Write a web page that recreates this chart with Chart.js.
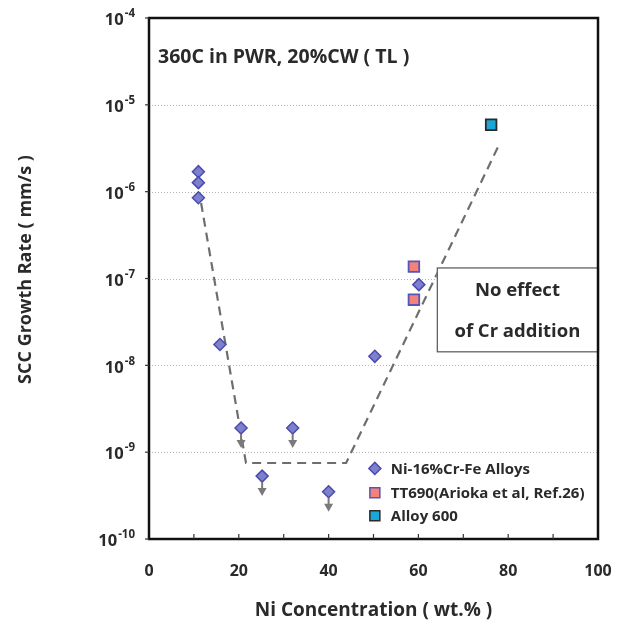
<!DOCTYPE html>
<html>
<head>
<meta charset="utf-8">
<script src="https://cdn.jsdelivr.net/npm/chart.js@4.4.0/dist/chart.umd.min.js"></script>
<style>
html,body{margin:0;padding:0;background:#fff;}
#wrap{width:625px;height:630px;}
</style>
</head>
<body>
<div id="wrap"><canvas id="c" width="625" height="630"></canvas></div>
<script>
// ---- data ----
const niX     = [11, 11, 11, 15.8, 20.5, 25.2, 32, 40, 50.3, 60.1];
const niY     = [1.7e-6, 1.27e-6, 8.5e-7, 1.74e-8, 1.9e-9, 5.3e-10, 1.9e-9, 3.5e-10, 1.27e-8, 8.5e-8];
const niUpper = [false, false, false, false, true, true, true, true, false, false];
const ttX     = [59, 59];
const ttY     = [1.37e-7, 5.7e-8];
const a600X   = [76.2];
const a600Y   = [5.9e-6];
const trendX  = [11.6, 21.6, 43.9, 78];
const trendY  = [7.4e-7, 7.5e-10, 7.5e-10, 3.5e-6];
const xTicks  = [0, 20, 40, 60, 80, 100];
const xMinor  = [10, 20, 30, 40, 50, 60, 70, 80, 90];
const yExp    = [-10, -9, -8, -7, -6, -5, -4];
const labels  = ['Ni-16%Cr-Fe Alloys', 'TT690(Arioka et al, Ref.26)', 'Alloy 600'];
const xTitle  = 'Ni Concentration ( wt.% )';
const yTitle  = 'SCC Growth Rate ( mm/s )';
const FONT = '"Open Sans", Calibri, Lato, sans-serif';
const TXT = '#2a2a2a';

const pts = (xs, ys) => xs.map((x, i) => ({x: x, y: ys[i]}));

const overlay = {
  id: 'overlay',
  beforeDatasetsDraw(chart) {
    const {ctx, chartArea: a, scales: {x, y}} = chart;
    ctx.save();
    ctx.strokeStyle = '#b5b5b5';
    ctx.lineWidth = 1;
    ctx.setLineDash([1, 2]);
    yExp.forEach(e => {
      const py = Math.round(y.getPixelForValue(Math.pow(10, e))) + 0.5;
      if (py > a.top + 2 && py < a.bottom - 2) {
        ctx.beginPath(); ctx.moveTo(a.left, py); ctx.lineTo(a.right, py); ctx.stroke();
      }
    });
    ctx.restore();
  },
  afterDatasetsDraw(chart) {
    const {ctx, chartArea: a, scales: {x, y}} = chart;
    ctx.save();
    // upper-bound arrows
    const ds = chart.data.datasets[0];
    ctx.strokeStyle = '#7a7a7a'; ctx.fillStyle = '#7a7a7a'; ctx.lineWidth = 2;
    ds.data.forEach((p, i) => {
      if (!niUpper[i]) return;
      const px = x.getPixelForValue(p.x), py = y.getPixelForValue(p.y);
      ctx.beginPath(); ctx.moveTo(px, py + 6); ctx.lineTo(px, py + 14); ctx.stroke();
      ctx.beginPath(); ctx.moveTo(px - 4.5, py + 12); ctx.lineTo(px + 4.5, py + 12); ctx.lineTo(px, py + 20); ctx.closePath(); ctx.fill();
    });
    // annotation box
    const bl = x.getPixelForValue(64.1), bt = y.getPixelForValue(1.34e-7), bb = y.getPixelForValue(1.45e-8);
    ctx.fillStyle = '#fff';
    ctx.fillRect(bl, bt, a.right - bl, bb - bt);
    ctx.strokeStyle = '#555'; ctx.lineWidth = 1.2;
    ctx.strokeRect(bl + 0.5, bt + 0.5, a.right - bl, bb - bt);
    ctx.fillStyle = TXT;
    ctx.font = 'bold 18.5px ' + FONT;
    ctx.textAlign = 'center'; ctx.textBaseline = 'middle';
    const cx = (bl + a.right) / 2;
    ctx.fillText('No effect', cx, bt + 23);
    ctx.fillText('of Cr addition', cx, bb - 20);
    // condition text
    ctx.textAlign = 'left';
    ctx.font = 'bold 19.5px ' + FONT;
    ctx.fillText('360C in PWR, 20%CW ( TL )', a.left + 9, a.top + 39);
    // legend
    ctx.font = 'bold 15px ' + FONT;
    const lx = x.getPixelForValue(50.3);
    const rows = [y.getPixelForValue(6.5e-10), y.getPixelForValue(3.4e-10), y.getPixelForValue(1.85e-10)];
    chart.data.datasets.slice(0, 3).forEach((d, i) => {
      const ry = rows[i];
      ctx.fillStyle = d.backgroundColor; ctx.strokeStyle = d.borderColor; ctx.lineWidth = 1.5;
      ctx.beginPath();
      if (i === 0) {
        ctx.moveTo(lx - 6, ry); ctx.lineTo(lx, ry - 6); ctx.lineTo(lx + 6, ry); ctx.lineTo(lx, ry + 6); ctx.closePath();
      } else {
        ctx.rect(lx - 5, ry - 5, 10, 10);
      }
      ctx.fill(); ctx.stroke();
      ctx.fillStyle = TXT;
      ctx.textAlign = 'left'; ctx.textBaseline = 'middle';
      ctx.fillText(labels[i], lx + 16, ry + 1);
    });
    // frame
    ctx.strokeStyle = '#111'; ctx.lineWidth = 2.5;
    ctx.strokeRect(a.left, a.top, a.right - a.left, a.bottom - a.top);
    // x minor ticks (inside)
    ctx.lineWidth = 1.2; ctx.strokeStyle = '#333';
    xMinor.forEach(v => {
      const px = x.getPixelForValue(v);
      ctx.beginPath(); ctx.moveTo(px, a.bottom); ctx.lineTo(px, a.bottom - 5); ctx.stroke();
    });
    // y ticks (outside) and labels with superscript exponent
    yExp.forEach(e => {
      const py = y.getPixelForValue(Math.pow(10, e));
      ctx.strokeStyle = '#333';
      ctx.beginPath(); ctx.moveTo(a.left - 4, py); ctx.lineTo(a.left, py); ctx.stroke();
      ctx.fillStyle = TXT;
      ctx.font = 'bold 11.5px ' + FONT;
      const sup = '-' + Math.abs(e);
      const sw = ctx.measureText(sup).width;
      ctx.textAlign = 'left'; ctx.textBaseline = 'middle';
      const supX = a.left - 14 - sw;
      ctx.fillText(sup, supX, py - 4);
      ctx.font = 'bold 16.5px ' + FONT;
      ctx.textAlign = 'right';
      ctx.fillText('10', supX - 1, py + 2.5);
    });
    // axis titles
    ctx.fillStyle = TXT;
    ctx.font = 'bold 19px ' + FONT;
    ctx.textAlign = 'center'; ctx.textBaseline = 'middle';
    ctx.fillText(xTitle, (a.left + a.right) / 2, 611);
    ctx.save();
    ctx.translate(26, (a.top + a.bottom) / 2 - 9);
    ctx.rotate(-Math.PI / 2);
    ctx.font = 'bold 18px ' + FONT;
    ctx.fillText(yTitle, 0, 0);
    ctx.restore();
    ctx.restore();
  }
};

new Chart(document.getElementById('c'), {
  type: 'scatter',
  data: {
    datasets: [
      { label: labels[0], data: pts(niX, niY), pointStyle: 'rectRot', pointRadius: 6, pointHoverRadius: 6,
        backgroundColor: '#7d80cf', borderColor: '#4b4bab', borderWidth: 1.5, order: 1 },
      { label: labels[1], data: pts(ttX, ttY), pointStyle: 'rect', pointRadius: 7.5, pointHoverRadius: 7.5,
        backgroundColor: '#f3827c', borderColor: '#5656b8', borderWidth: 1.8, order: 1 },
      { label: labels[2], data: pts(a600X, a600Y), pointStyle: 'rect', pointRadius: 7.5, pointHoverRadius: 7.5,
        backgroundColor: '#1ba6d8', borderColor: '#2a2a2a', borderWidth: 1.8, order: 1 },
      { type: 'line', label: 'trend', data: pts(trendX, trendY), borderColor: '#6e6e6e', borderWidth: 2.2,
        borderDash: [9, 6], pointRadius: 0, fill: false, tension: 0, order: 2 }
    ]
  },
  options: {
    responsive: false,
    animation: false,
    devicePixelRatio: 1,
    layout: { padding: { left: 16, right: 27, top: 18, bottom: 8 } },
    plugins: { legend: { display: false }, tooltip: { enabled: false } },
    scales: {
      x: {
        type: 'linear', min: 0, max: 100,
        afterBuildTicks: s => { s.ticks = xTicks.map(v => ({value: v})); },
        afterFit: s => { s.height = 630 - 539 - 8; s.paddingLeft = 0; s.paddingRight = 0; },
        grid: { display: false, drawTicks: false },
        border: { display: false },
        ticks: { color: TXT, font: { family: FONT, size: 16, weight: 'bold' }, padding: 23 },
        title: { display: false }
      },
      y: {
        type: 'logarithmic', min: 1e-10, max: 1e-4,
        afterBuildTicks: s => { s.ticks = yExp.map(e => ({value: Math.pow(10, e)})); },
        afterFit: s => { s.width = 149 - 16; s.paddingTop = 0; s.paddingBottom = 0; },
        grid: { display: false, drawTicks: false },
        border: { display: false },
        ticks: { display: false },
        title: { display: false }
      }
    }
  },
  plugins: [overlay]
});
</script>
</body>
</html>
